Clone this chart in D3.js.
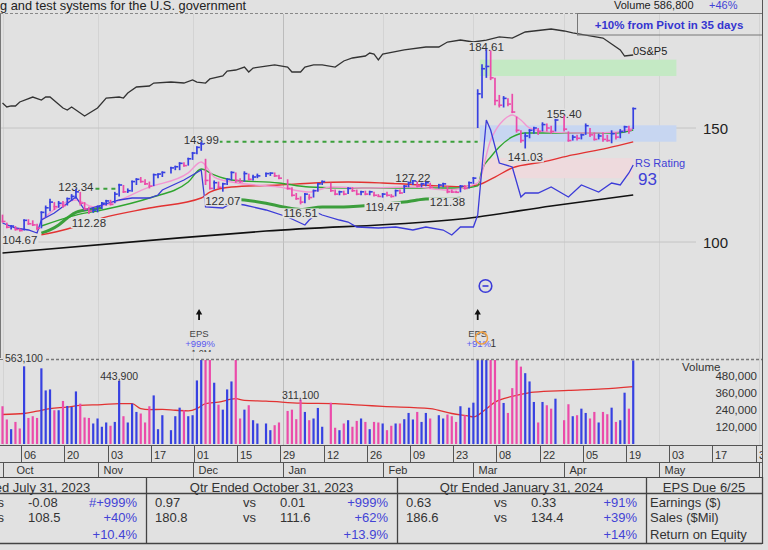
<!DOCTYPE html>
<html><head><meta charset="utf-8">
<script src="https://cdn.jsdelivr.net/npm/d3@7"></script>
<style>
body{margin:0;background:#e1e1e1;}
svg{display:block;font-family:"Liberation Sans",Arial,sans-serif;}
</style></head>
<body><svg id="c" width="768" height="550"></svg>
<script>
// ---------------- DATA ----------------
const firstDay = "2023-10-02", lastDay = "2024-04-23";
const holidays = ["2023-11-23","2023-12-25","2024-01-01","2024-01-15","2024-02-19","2024-03-29"];
const priorClose = 110.5;
const high = [112,108.5,107.5,107,106,110,110,109.5,108,113.5,116,119,117.5,118,118,119.5,121,123.34,122,117.5,
 115.5,115,116,117.5,118.5,118.5,122,125.5,125,123.5,127,128,128.5,127.5,126.5,130,130,131,
 133,133.5,135,135,137,139.5,142,143.99,136.5,130,127,126.5,126,128,131,130.5,128,131,130,129.5,130,
 130.5,130.5,130.5,129.5,
 127.5,124,121.5,120,121.5,121,123,126,127,
 126,123,122.5,122.5,124,124,123,122.5,122.5,122.5,122,121,121.5,122,121,123,123,125,126.5,127.22,126.5,126,126.5,126,
 125.5,126,124.5,123,122.5,125,125,126.5,128.5,167,178,184.61,184,172,164.5,164,163,165,155,149,148,149.5,150.5,150,152.5,152,151,154,
 155.4,148.5,147,147,147.5,152,150,148,147.5,148,147,149,148,149.5,151,151,159];
const low = [108.5,106,105.5,105,104.67,105,107.5,107,105.2,106,111,113.5,114,115,115,116,118,119,116,114,
 112.28,112.8,113,114.5,116,116,117,120,121.5,121.5,122,125,126,125,123.5,124.5,128,128.5,
 130,131.5,131.5,133,133.5,136,138.5,140,125,123,123,123.5,122.07,125,127,126,126,126.5,127,127,128,
 128.5,129,128.5,127.5,
 123,120,118.5,116.51,117,118.5,119.5,122,125,
 122,120.5,120.5,120.5,121,122,120.5,120.5,120.5,120.5,120,119.8,119.47,120,119.5,120,121,121.5,124,125,124,124,124.5,123.5,
 123.5,124,121.38,121.5,121.5,121.8,123,123.5,125.5,150,163,172,171,160,159,159,159.5,156.5,148,143.5,141.03,145.5,147.5,147,148.5,148.5,147.5,148.5,
 148.5,144,144.5,144.5,145,147,146,144.5,145,144,144,143.3,145,145.5,148,147.5,149.5];
const close = [109,106.5,107,105.5,105,109.5,108,107.5,106,113,115,117.5,115.5,117,116,119,120,122,117,114.5,
 113.5,114,115.5,117,118,116.5,121,125,122,122.5,126.5,127.5,126.5,125.5,124.5,129.5,129.8,130.5,
 132.5,133,134.5,133.5,136.5,139,141.5,143,127,123.5,126,124,125.5,127.5,130.5,127,126.5,130,127.5,128.5,129,
 130,130.2,129,128,
 123.5,120.5,119,117.5,121,119.5,122.5,125.5,126.5,
 122.5,121,122,121,123.5,122.5,121,122,121,122,120.5,120,121,120.5,120,122.5,121.5,124.5,126,126.8,124.5,125.5,126,124,
 125,125.5,122,121.9,121.8,124.5,123.5,126,128,165,176,177,172,162,160,163,160.5,157,149,144.5,146.5,149,150,148.5,151.5,150,148.5,153.5,
 149.5,144.5,146,145.5,147,151,147,145,146.5,145,144.5,147.5,146,148.5,150.5,149,158.5];
// volume in thousands of shares
const volume = [265,172,104,155,109,545,183,195,183,531,376,383,237,237,302,267,260,369,283,186,
 183,144,179,121,151,128,155,443.9,195,151,283,225,214,151,265,341,104,202,
 97,195,255,237,195,202,446,1000,800,620,430,276,241,383,439,600,179,241,272,167,144,
 144,97,132,151,
 232,241,174,311.1,225,167,179,253,121,
 290,114,97,144,167,121,162,179,155,104,155,151,144,97,128,144,144,174,218,172,225,155,218,179,
 202,179,207,195,155,265,202,255,290,900,1500,800,700,650,383,288,218,392,600,543,497,439,295,151,295,272,248,318,
 167,279,195,202,248,218,179,225,151,225,209,255,155,167,360,248,586.8];

// moving averages & overlays: [weekday slot, value]
const ma10 = [[9,109.6],[17,118.4],[21,115.4],[34,124.1],[43,130.3],[46,135.1],[49,128.5],[53,126.3],[64,124.1],[71,121.9],[76,124.1],[84,123.7],[95,124.1],[103,122.8],[110,125.9],[113,144.7],[116,153.5],[118,155.7],[120,153.5],[122,150],[127,148.2],[134,147.8],[142,148.2],[146,150]];
const ma21 = [[9,107],[17,111.8],[23,114],[34,119.3],[43,126.3],[46,132],[49,129.4],[53,127.2],[64,125.9],[71,124.1],[80,123.7],[88,123.7],[95,123.7],[107,123.7],[110,124.6],[111,131.6],[113,137.3],[115,141.7],[118,146.1],[121,147.8],[127,147.8],[134,147.8],[142,147.8],[146,149.1]];
const ma50 = [[9,103.1],[15,105.7],[23,110.5],[34,114.9],[46,119.3],[48,121.9],[53,124.1],[64,125],[72,125.9],[80,126.3],[88,125.9],[99,124.8],[106,124.3],[110,125],[114,128.5],[118,132.5],[125,135.1],[132,138.2],[140,141.2],[146,143.9]];
const ma200 = [[0,95.2],[41,101.8],[61,104.8],[110,111],[127,115.8],[146,120.6]];
const baseLineA = [[9,103.9],[11,105.3],[13,107.5],[15,110.5],[17,113],[21,114.5],[23,115]];
const baseLineB = [[47,119.2],[51,119],[56,118.4],[61,117],[65,115.4],[69,114.3],[74,115.4],[79,115.4],[83,115.8],[88,116.6],[93,117.5],[96,118.4],[98,118.9],[103,119],[106,119.2]];
const rsLine = [[0,37],[3,32],[6,30],[8,27],[9,40],[12,47],[17,63],[19,50],[23,55],[27,60],[30,62],[34,62],[36,65],[37,70],[42,80],[46,90],[47,53],[51,52],[53,57],[56,55],[61,50],[66,43],[70,35],[71,40],[73,47],[74,45],[78,40],[80,38],[82,33],[87,32],[91,33],[95,30],[98,33],[102,30],[104,25],[106,33],[109,33],[110,45],[112,140],[113,130],[115,97],[118,93],[120,63],[121,67],[124,67],[127,73],[131,63],[134,75],[138,68],[141,77],[143,75],[145,87],[146,95]];
const spx = [[0,4287],[1,4235],[2,4248],[3,4248],[4,4300],[7,4365],[9,4326],[10,4365],[11,4365],[14,4222],[15,4195],[16,4235],[19,4117],[22,4222],[24,4352],[27,4365],[28,4352],[29,4418],[31,4496],[34,4509],[35,4548],[39,4561],[42,4548],[44,4588],[45,4561],[47,4548],[48,4601],[51,4640],[52,4705],[54,4718],[56,4757],[57,4692],[58,4744],[61,4770],[63,4784],[66,4757],[67,4692],[69,4692],[70,4757],[72,4784],[74,4784],[77,4757],[79,4836],[81,4875],[84,4901],[85,4940],[86,4927],[87,4849],[88,4927],[93,4980],[98,5019],[101,5019],[103,5084],[106,5110],[109,5084],[112,5110],[115,5150],[118,5136],[121,5215],[125,5241],[127,5254],[130,5228],[132,5202],[136,5163],[139,5136],[141,5058],[143,4980],[144,4901],[146,4914]];
const volAvg = [[0,207],[5,214],[8,230],[11,248],[15,259],[18,271],[23,276],[27,283],[30,283],[32,248],[34,241],[37,243],[40,237],[43,232],[45,248],[47,283],[50,294],[54,318],[56,306],[61,301],[69,287],[77,283],[84,271],[88,264],[99,248],[104,214],[108,195],[109,190],[112,248],[114,294],[116,318],[119,341],[123,364],[131,376],[139,387],[146,403]];
const pivots = [{price:123.34, from:21.5, to:27}, {price:143.99, from:50, to:110}];
const zones = [{lo:172.79, hi:179.99, from:110.5, to:156, color:"#c4e9c4"},
               {lo:143.99, hi:151.19, from:110.5, to:156, color:"#c7d6f1"},
               {lo:128, hi:136.8, from:110.5, to:146, color:"#eedadd"}];
const highLabels = [17,46,95,112,130];
const lowLabels = [4,20,51,69,88,103,121];
const volLabels = [27,69];
const epsEvents = [{slot:45.5, text:"+999%"}, {slot:110, text:"+91%"}];
const tickDates = ["2023-10-06","2023-10-20","2023-11-03","2023-11-17","2023-12-01","2023-12-15","2023-12-29","2024-01-12","2024-01-26","2024-02-09","2024-02-23","2024-03-08","2024-03-22","2024-04-05","2024-04-19","2024-05-03","2024-05-17","2024-05-31"];
const monthStarts = [["2023-10-02","Oct"],["2023-11-01","Nov"],["2023-12-01","Dec"],["2024-01-01","Jan"],["2024-02-01","Feb"],["2024-03-01","Mar"],["2024-04-01","Apr"],["2024-05-01","May"],["2024-06-03",""]];
const priceTicks = [100,150];
const volTicks = [120,240,360,480];
const tableHeaders = ["Qtr Ended July 31, 2023","Qtr Ended October 31, 2023","Qtr Ended January 31, 2024","EPS Due 6/25"];
const tableRows = [
  [["","-0.08","#+999%"],["0.97","0.01","+999%"],["0.63","0.33","+91%"],"Earnings ($)"],
  [["","108.5","+40%"],["180.8","111.6","+62%"],["186.6","134.4","+39%"],"Sales ($Mil)"],
  [["","","+10.4%"],["","","+13.9%"],["","","+14%"],"Return on Equity"]];

// ---------------- HELPERS ----------------
const BG="#e1e1e1", UP="#3741e1", DN="#eb4baa", TXT="#333", BLUE="#4343d6";
function parse(s){const [y,m,d]=s.split("-").map(Number);return new Date(Date.UTC(y,m-1,d));}
function slotOf(s){const a=parse(firstDay),b=parse(s);let n=0;
  for(let t=new Date(a);t<b;t.setUTCDate(t.getUTCDate()+1)){const w=t.getUTCDay();if(w>0&&w<6)n++;}return n;}
const days=[];{let n=0;const b=parse(lastDay);
  for(let t=parse(firstDay);t<=b;t.setUTCDate(t.getUTCDate()+1)){const w=t.getUTCDay();if(w===0||w===6)continue;
    const iso=t.toISOString().slice(0,10); if(!holidays.includes(iso)) days.push({date:iso,slot:n}); n++;}}
const bars=days.map((d,k)=>({slot:d.slot,hi:high[k],lo:low[k],cl:close[k],vol:volume[k],
  up: close[k]>=(k?close[k-1]:priorClose)}));
const bySlot=new Map(bars.map(b=>[b.slot,b]));

const svg=d3.select("#c");
svg.append("rect").attr("width",768).attr("height",550).attr("fill",BG);
const xS=d3.scaleLinear().domain([0,176]).range([2.5,2.5+176*4.32]);
const yP=d3.scaleLinear().domain([100,150]).range([242,128]);
const yV=d3.scaleLinear().domain([0,480]).range([444,375.6]);
const yRS=d3.scaleLinear().domain([0,100]).range([260,160]);
const ySP=d3.scaleLinear().domain([4117,5254]).range([116,29]);

const defs=svg.append("defs");
defs.append("clipPath").attr("id","pc").append("rect").attr("x",0).attr("y",14).attr("width",762).attr("height",345);
defs.append("clipPath").attr("id","vc").append("rect").attr("x",0).attr("y",360).attr("width",762).attr("height",86);
defs.append("clipPath").attr("id","ac").append("rect").attr("x",0).attr("y",440).attr("width",762).attr("height",40);
defs.append("clipPath").attr("id","mc").append("rect").attr("x",0).attr("y",300).attr("width",762).attr("height",52);

// ---------------- GRID ----------------
const grid=svg.append("g");
monthStarts.forEach(([d],i)=>{const x=Math.round(xS(slotOf(d)))+0.5;
  grid.append("line").attr("x1",x).attr("x2",x).attr("y1",14).attr("y2",445)
   .attr("stroke",d==="2024-01-01"?"#bcbcbc":"#d3d3d3").attr("stroke-width",1);});
priceTicks.forEach(p=>{grid.append("line").attr("x1",0).attr("x2",696).attr("y1",yP(p)).attr("y2",yP(p)).attr("stroke","#c4c4c4");
  grid.append("text").attr("x",703).attr("y",yP(p)+5.5).attr("font-size",15).attr("fill","#222").text(p);});

// ---------------- PRICE PANEL ----------------
const pg=svg.append("g").attr("clip-path","url(#pc)");
zones.forEach(z=>pg.append("rect").attr("x",xS(z.from)).attr("width",xS(z.to)-xS(z.from))
  .attr("y",yP(z.hi)).attr("height",yP(z.lo)-yP(z.hi)).attr("fill",z.color));
const lp=d3.line().x(d=>xS(d[0])).y(d=>yP(d[1])).curve(d3.curveMonotoneX);
pg.append("path").attr("d",lp(ma200)).attr("fill","none").attr("stroke","#111").attr("stroke-width",1.6);
pg.append("path").attr("d",lp(baseLineA)).attr("fill","none").attr("stroke","#3c9e3c").attr("stroke-width",3);
pg.append("path").attr("d",lp(baseLineB)).attr("fill","none").attr("stroke","#3c9e3c").attr("stroke-width",3);
pg.append("path").attr("d",lp(ma50)).attr("fill","none").attr("stroke","#e23232").attr("stroke-width",1.4);
pg.append("path").attr("d",lp(ma21)).attr("fill","none").attr("stroke","#2fa52f").attr("stroke-width",1.4);
pg.append("path").attr("d",lp(ma10)).attr("fill","none").attr("stroke","#f296d2").attr("stroke-width",1.4);
pivots.forEach(p=>pg.append("line").attr("x1",xS(p.from)).attr("x2",xS(p.to)).attr("y1",yP(p.price)).attr("y2",yP(p.price))
  .attr("stroke","#3ca03c").attr("stroke-width",2).attr("stroke-dasharray","4,4"));
pg.append("path").attr("d",d3.line().x(d=>xS(d[0])).y(d=>yRS(d[1]))(rsLine)).attr("fill","none").attr("stroke","#3b3bd8").attr("stroke-width",1.3);
pg.append("path").attr("d",d3.line().x(d=>xS(d[0])).y(d=>ySP(d[1]))(spx)).attr("fill","none").attr("stroke","#333").attr("stroke-width",1.3);

// price labels with background
function plabel(x,y,t){const g=pg.append("g");
  const tx=g.append("text").attr("x",x).attr("y",y).attr("text-anchor","middle").attr("font-size",11.5).attr("fill",TXT).text(t);
  const bb=tx.node().getBBox();
  g.insert("rect","text").attr("x",bb.x-1).attr("y",y-9).attr("width",bb.width+2).attr("height",10).attr("fill",BG);}
highLabels.forEach(s=>{const b=bySlot.get(s);plabel(xS(s),yP(b.hi)+2,b.hi.toFixed(2));});
lowLabels.forEach(s=>{const b=bySlot.get(s);plabel(xS(s),yP(b.lo)+13,b.lo.toFixed(2));});

// bars
pg.selectAll("line.hl").data(bars).join("line").attr("class","hl")
 .attr("x1",d=>xS(d.slot)).attr("x2",d=>xS(d.slot)).attr("y1",d=>yP(d.hi)).attr("y2",d=>yP(d.lo))
 .attr("stroke",d=>d.up?UP:DN).attr("stroke-width",1.7);
pg.selectAll("line.cl").data(bars).join("line").attr("class","cl")
 .attr("x1",d=>xS(d.slot)-0.8).attr("x2",d=>xS(d.slot)+3).attr("y1",d=>yP(d.cl)).attr("y2",d=>yP(d.cl))
 .attr("stroke",d=>d.up?UP:DN).attr("stroke-width",1.6);

// annotations
svg.append("text").attr("x",633).attr("y",55).attr("font-size",11).attr("fill","#222").text("0S&P5");
svg.append("text").attr("x",635).attr("y",166.5).attr("font-size",11).attr("fill","#3f3fd6").text("RS Rating");
svg.append("text").attr("x",638).attr("y",185).attr("font-size",17).attr("fill","#3f3fd6").text("93");
const mg=svg.append("g");
epsEvents.forEach(e=>{const x=xS(e.slot);
  mg.append("path").attr("d",`M${x},309 L${x+3.2},314.5 L${x+0.9},314.5 L${x+0.9},320 L${x-0.9},320 L${x-0.9},314.5 L${x-3.2},314.5 Z`).attr("fill","#111");
  mg.append("text").attr("x",x).attr("y",337).attr("text-anchor","middle").attr("font-size",9.5).attr("fill","#444").text("EPS");
  mg.append("text").attr("x",x+1).attr("y",346.5).attr("text-anchor","middle").attr("font-size",9.5).attr("fill","#5a5af0").text(e.text);});
svg.append("g").attr("clip-path","url(#mc)").append("text").attr("x",xS(46)).attr("y",355.5).attr("text-anchor","middle").attr("font-size",9).attr("fill","#444").text("1.0M");
mg.append("text").attr("x",490.5).attr("y",347).attr("font-size",10).attr("fill","#333").text("1");
mg.append("circle").attr("cx",481.5).attr("cy",338).attr("r",6).attr("fill","none").attr("stroke","#f0a040").attr("stroke-width",1.5);
mg.append("circle").attr("cx",485.5).attr("cy",286).attr("r",6.3).attr("fill","none").attr("stroke","#3b3bd8").attr("stroke-width",1.6);
mg.append("line").attr("x1",482.5).attr("x2",488.5).attr("y1",286).attr("y2",286).attr("stroke","#3b3bd8").attr("stroke-width",1.6);

// ---------------- TOP HEADER ----------------
svg.append("text").attr("x",0).attr("y",9.5).attr("font-size",12.8).attr("fill","#222").text("g and test systems for the U.S. government");
svg.append("text").attr("x",614).attr("y",9).attr("font-size",11).attr("fill","#222").text("Volume "+d3.format(",")(Math.round(volume[volume.length-1]*1000)));
svg.append("text").attr("x",709).attr("y",9).attr("font-size",11).attr("fill",BLUE).text("+46%");
svg.append("line").attr("x1",0).attr("x2",577).attr("y1",13.5).attr("y2",13.5).attr("stroke","#888").attr("stroke-dasharray","3,2");
svg.append("rect").attr("x",577.5).attr("y",13.5).attr("width",185).attr("height",21.5).attr("fill","none").attr("stroke","#777");
svg.append("text").attr("x",669).attr("y",29).attr("text-anchor","middle").attr("font-size",11.5).attr("font-weight","bold").attr("fill","#3535d0").text("+10% from Pivot in 35 days");

// ---------------- VOLUME PANEL ----------------
const vg=svg.append("g").attr("clip-path","url(#vc)");
vg.append("path").attr("d",d3.line().x(d=>xS(d[0])).y(d=>yV(d[1])).curve(d3.curveMonotoneX)(volAvg)).attr("fill","none").attr("stroke","#e23232").attr("stroke-width",1.3);
vg.selectAll("rect.v").data(bars).join("rect").attr("class","v")
 .attr("x",d=>xS(d.slot)-1.1).attr("width",2.2).attr("y",d=>yV(d.vol)).attr("height",d=>444-yV(d.vol))
 .attr("fill",d=>d.up?UP:DN);
volLabels.forEach(s=>{const b=bySlot.get(s);
  svg.append("text").attr("x",xS(s)).attr("y",yV(b.vol)-1).attr("text-anchor","middle").attr("font-size",10.5).attr("fill",TXT).text(d3.format(",")(Math.round(b.vol*1000)));});
svg.append("line").attr("x1",46).attr("x2",762).attr("y1",359.5).attr("y2",359.5).attr("stroke","#777").attr("stroke-width",1.5).attr("stroke-dasharray","3,2");
svg.append("line").attr("x1",0).attr("x2",3).attr("y1",359.5).attr("y2",359.5).attr("stroke","#777");
svg.append("text").attr("x",5).attr("y",362).attr("font-size",10.5).attr("fill",TXT).text("563,100");
svg.append("text").attr("x",682).attr("y",371).attr("font-size",11.5).attr("fill",TXT).text("Volume");
volTicks.forEach(v=>svg.append("text").attr("x",757).attr("y",yV(v)+4).attr("text-anchor","end").attr("font-size",11.5).attr("fill",TXT).text(d3.format(",")(v*1000)));

// ---------------- AXES ----------------
const ax=svg.append("g");
ax.append("line").attr("x1",0).attr("x2",762).attr("y1",445.5).attr("y2",445.5).attr("stroke","#555");
ax.append("line").attr("x1",0).attr("x2",762).attr("y1",462.5).attr("y2",462.5).attr("stroke","#555");
ax.append("line").attr("x1",0).attr("x2",762).attr("y1",477.5).attr("y2",477.5).attr("stroke","#444");
ax.append("line").attr("x1",762.5).attr("x2",762.5).attr("y1",0).attr("y2",478).attr("stroke","#555");
ax.append("line").attr("x1",0.5).attr("x2",0.5).attr("y1",14).attr("y2",358).attr("stroke","#777");
const tg=ax.append("g").attr("clip-path","url(#ac)");
tickDates.forEach(d=>{const x=Math.round(xS(slotOf(d))+1.5)+0.5;
  tg.append("line").attr("x1",x).attr("x2",x).attr("y1",446).attr("y2",462).attr("stroke","#555");
  tg.append("text").attr("x",x+2.5).attr("y",458.5).attr("font-size",11).attr("fill",TXT).text(d.slice(8));});
monthStarts.forEach(([d,l],i)=>{const x=Math.round(xS(slotOf(d)))+0.5;
  ax.append("line").attr("x1",x).attr("x2",x).attr("y1",462).attr("y2",477).attr("stroke","#555");
  if(l) ax.append("text").attr("x",x+(i===0?13:5)).attr("y",474).attr("font-size",11).attr("fill",TXT).text(l);});

// ---------------- TABLE ----------------
const tb=svg.append("g");
const cols=[[-106,146],[146,397],[397,646],[646,762]];
tb.append("line").attr("x1",0).attr("x2",762).attr("y1",493.5).attr("y2",493.5).attr("stroke","#444").attr("stroke-width",1.6);
tb.append("line").attr("x1",0).attr("x2",762).attr("y1",543.5).attr("y2",543.5).attr("stroke","#444").attr("stroke-width",1.3);
cols.forEach(([L,R],ci)=>{
  tb.append("line").attr("x1",R+0.5).attr("x2",R+0.5).attr("y1",477).attr("y2",544).attr("stroke","#444").attr("stroke-width",1.3);
  tb.append("text").attr("x",(L+R)/2).attr("y",491.5).attr("text-anchor","middle").attr("font-size",13).attr("fill",TXT).text(tableHeaders[ci]);
});
const rowY=[506.5,522,538.5];
tableRows.forEach((row,ri)=>{
  for(let ci=0;ci<3;ci++){const [L,R]=cols[ci];const [a,b,p]=row[ci];
    if(a) tb.append("text").attr("x",L+9).attr("y",rowY[ri]).attr("font-size",13).attr("fill",TXT).text(a);
    if(b){tb.append("text").attr("x",L+97).attr("y",rowY[ri]).attr("font-size",13).attr("fill",TXT).text("vs");
      tb.append("text").attr("x",L+134).attr("y",rowY[ri]).attr("font-size",13).attr("fill",TXT).text(b);}
    tb.append("text").attr("x",R-9).attr("y",rowY[ri]).attr("text-anchor","end").attr("font-size",13).attr("fill",BLUE).text(p);}
  tb.append("text").attr("x",650).attr("y",rowY[ri]).attr("font-size",13).attr("fill",TXT).text(row[3]);
});
</script></body></html>
